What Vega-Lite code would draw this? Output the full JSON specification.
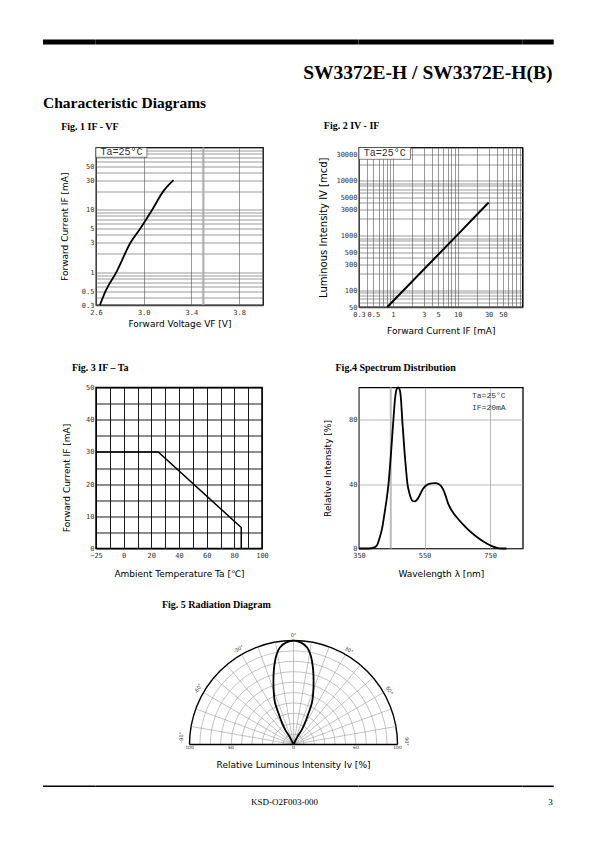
{
  "$schema": "https://vega.github.io/schema/vega-lite/v6.json",
  "background": "white",
  "padding": {"left": 43, "top": 39.5, "right": 0, "bottom": 0},
  "bounds": "flush",
  "spacing": 0,
  "columns": 5,
  "align": "each",
  "config": {
    "view": {"stroke": null},
    "axis": {"labelFont": "DejaVu Sans Mono", "labelFontSize": 7, "labelColor": "#333", "titleFont": "DejaVu Sans", "titleFontSize": 9, "titleFontWeight": "normal", "titleColor": "#000", "ticks": false, "domain": false, "labelOverlap": false, "labelFlush": false, "labelPadding": 3, "gridColor": "#555", "gridWidth": 0.6, "gridOpacity": 1},
    "title": {"font": "Liberation Serif", "fontWeight": "bold", "fontSize": 10, "color": "#000", "anchor": "start", "frame": "group", "baseline": "alphabetic"}
  },
  "concat": [
    {"width": 52.8, "height": 5, "view": {"fill": "black", "stroke": null}, "data": {"values": [{}]}, "mark": {"type": "point", "size": 0, "strokeWidth": 0, "opacity": 0}, "encoding": {},
     "title": {"text": "Characteristic Diagrams", "orient": "bottom", "anchor": "start", "fontSize": 15.5, "offset": 51.5}},
    {"width": 167, "height": 5, "view": {"fill": "black", "stroke": null}, "data": {"values": [{}]}, "mark": {"type": "point", "size": 0, "strokeWidth": 0, "opacity": 0}, "encoding": {}},
    {"width": 95.7, "height": 5, "view": {"fill": "black", "stroke": null}, "data": {"values": [{}]}, "mark": {"type": "point", "size": 0, "strokeWidth": 0, "opacity": 0}, "encoding": {}},
    {"width": 163.8, "height": 5, "view": {"fill": "black", "stroke": null}, "data": {"values": [{}]}, "mark": {"type": "point", "size": 0, "strokeWidth": 0, "opacity": 0}, "encoding": {}},
    {"width": 30.7, "height": 5, "view": {"fill": "black", "stroke": null}, "data": {"values": [{}]}, "mark": {"type": "point", "size": 0, "strokeWidth": 0, "opacity": 0}, "encoding": {},
     "title": {"text": "SW3372E-H / SW3372E-H(B)", "orient": "bottom", "anchor": "end", "fontSize": 19.5, "offset": 19.5, "dx": -1.3}},

    {"width": 1, "height": 103, "data": {"values": [{}]}, "mark": {"type": "point", "size": 0, "strokeWidth": 0, "opacity": 0}, "encoding": {}},
    {"width": 1, "height": 1, "data": {"values": [{}]}, "mark": {"type": "point", "size": 0, "strokeWidth": 0, "opacity": 0}, "encoding": {}},
    {"width": 1, "height": 1, "data": {"values": [{}]}, "mark": {"type": "point", "size": 0, "strokeWidth": 0, "opacity": 0}, "encoding": {}},
    {"width": 1, "height": 1, "data": {"values": [{}]}, "mark": {"type": "point", "size": 0, "strokeWidth": 0, "opacity": 0}, "encoding": {}},
    {"width": 1, "height": 1, "data": {"values": [{}]}, "mark": {"type": "point", "size": 0, "strokeWidth": 0, "opacity": 0}, "encoding": {}},

    {"width": 1, "height": 239.5, "data": {"values": [{}]}, "mark": {"type": "point", "size": 0, "strokeWidth": 0, "opacity": 0}, "encoding": {}},
    {"width": 167, "height": 157.5, "view": {"stroke": "#000", "strokeWidth": 1.3},
     "title": {"text": "Fig. 1 IF - VF", "offset": 11.8, "dx": -34.8},
     "layer": [
       {"data": {"values": [{}]}, "mark": {"type": "rule", "color": "#aaa", "strokeWidth": 2}, "encoding": {"x": {"datum": 3.5, "type": "quantitative"}}},
       {"data": {"values": [
          {"vf": 2.633, "ifa": 0.3}, {"vf": 2.68, "ifa": 0.5}, {"vf": 2.77, "ifa": 1}, {"vf": 2.89, "ifa": 3},
          {"vf": 2.97, "ifa": 5}, {"vf": 3.07, "ifa": 10}, {"vf": 3.165, "ifa": 20}, {"vf": 3.25, "ifa": 30}]},
        "mark": {"type": "line", "color": "black", "strokeWidth": 1.8, "interpolate": "monotone"},
        "encoding": {
          "x": {"field": "vf", "type": "quantitative", "scale": {"domain": [2.6, 4.0], "nice": false, "zero": false},
                "axis": {"values": [2.6,2.7,2.8,2.9,3.0,3.1,3.2,3.3,3.4,3.5,3.6,3.7,3.8,3.9,4.0], "labelExpr": "round(datum.value*10) % 2 == 0 ? format(datum.value, '.1f') : ''", "labelOverlap": false, "title": "Forward   Voltage VF [V]", "titleY": 18, "titleBaseline": "middle", "labelPadding": 3, "grid": true}},
          "y": {"field": "ifa", "type": "quantitative", "scale": {"type": "log", "domain": [0.3, 100], "nice": false},
                "axis": {"values": [0.3,0.4,0.5,0.6,0.7,0.8,0.9,1,2,3,4,5,6,7,8,9,10,20,30,40,50,60,70,80,90,100], "labelExpr": "indexof([0.3,0.5,1,3,5,10,30,50], datum.value) >= 0 ? format(datum.value, '~g') : ''", "labelOverlap": false, "title": "Forward   Current IF [mA]", "titleX": -31.8, "titleBaseline": "middle", "labelPadding": 2, "grid": true}}
        }},
       {"data": {"values": [{}]}, "mark": {"type": "point", "shape": "M-1,-0.188L1,-0.188L1,0.188L-1,0.188Z", "size": 2601, "filled": true, "fill": "white", "stroke": "#333", "strokeWidth": 0.6, "opacity": 1},
        "encoding": {"x": {"datum": 2.813, "type": "quantitative"}, "y": {"datum": 83.2, "type": "quantitative"}}},
       {"data": {"values": [{}]}, "mark": {"type": "text", "font": "Liberation Mono", "fontSize": 10, "color": "#333", "align": "center", "baseline": "middle"},
        "encoding": {"x": {"datum": 2.813, "type": "quantitative"}, "y": {"datum": 83.2, "type": "quantitative"}, "text": {"value": "Ta=25°C"}}}
     ]},
    {"width": 1, "height": 1, "data": {"values": [{}]}, "mark": {"type": "point", "size": 0, "strokeWidth": 0, "opacity": 0}, "encoding": {}},
    {"width": 163.5, "height": 159.5, "view": {"stroke": "#000", "strokeWidth": 1.3},
     "title": {"text": "Fig. 2 IV - IF", "offset": 12.5, "dx": -35.2},
     "layer": [
       {"data": {"values": [{"ifw": 0.82, "iv": 50}, {"ifw": 10, "iv": 1040}, {"ifw": 30, "iv": 4000}]},
        "mark": {"type": "line", "color": "black", "strokeWidth": 2},
        "encoding": {
          "x": {"field": "ifw", "type": "quantitative", "scale": {"type": "log", "domain": [0.3, 100], "nice": false},
                "axis": {"values": [0.3,0.4,0.5,0.6,0.7,0.8,0.9,1,2,3,4,5,6,7,8,9,10,20,30,40,50,60,70,80,90,100], "labelExpr": "indexof([0.3,0.5,1,3,5,10,30,50], datum.value) >= 0 ? format(datum.value, '~g') : ''", "labelOverlap": false, "title": "Forward   Current IF [mA]", "titleY": 23, "titleBaseline": "middle", "grid": true}},
          "y": {"field": "iv", "type": "quantitative", "scale": {"type": "log", "domain": [50, 40000], "nice": false},
                "axis": {"values": [50,60,70,80,90,100,200,300,400,500,600,700,800,900,1000,2000,3000,4000,5000,6000,7000,8000,9000,10000,20000,30000,40000], "labelExpr": "indexof([50,100,300,500,1000,3000,5000,10000,30000], datum.value) >= 0 ? format(datum.value, 'd') : ''", "labelOverlap": false, "title": "Luminous Intensity IV [mcd]", "titleFontSize": 10, "titleX": -35.2, "titleBaseline": "middle", "labelPadding": 2, "grid": true}}
        }},
       {"data": {"values": [{}]}, "mark": {"type": "point", "shape": "M-1,-0.229L1,-0.229L1,0.229L-1,0.229Z", "size": 2652, "filled": true, "fill": "white", "stroke": "#333", "strokeWidth": 0.6, "opacity": 1},
        "encoding": {"x": {"datum": 0.749, "type": "quantitative"}, "y": {"datum": 31250, "type": "quantitative"}}},
       {"data": {"values": [{}]}, "mark": {"type": "text", "font": "Liberation Mono", "fontSize": 10, "color": "#333", "align": "center", "baseline": "middle"},
        "encoding": {"x": {"datum": 0.749, "type": "quantitative"}, "y": {"datum": 31250, "type": "quantitative"}, "text": {"value": "Ta=25°C"}}}
     ]},
    {"width": 1, "height": 1, "data": {"values": [{}]}, "mark": {"type": "point", "size": 0, "strokeWidth": 0, "opacity": 0}, "encoding": {}},

    {"width": 1, "height": 251, "data": {"values": [{}]}, "mark": {"type": "point", "size": 0, "strokeWidth": 0, "opacity": 0}, "encoding": {}},
    {"width": 166, "height": 161, "view": {"stroke": "#000", "strokeWidth": 1.5},
     "title": {"text": "Fig. 3 IF – Ta", "offset": 11, "dx": -24.1},
     "data": {"values": [{"ta": -20, "cur": 30, "o": 0}, {"ta": 25, "cur": 30, "o": 1}, {"ta": 85, "cur": 6.5, "o": 2}, {"ta": 85, "cur": 0, "o": 3}]},
     "mark": {"type": "line", "color": "black", "strokeWidth": 1.5},
     "encoding": {
       "order": {"field": "o", "type": "quantitative"},
       "x": {"field": "ta", "type": "quantitative", "scale": {"domain": [-20, 100], "nice": false, "zero": false},
             "axis": {"values": [-20,-10,0,10,20,30,40,50,60,70,80,90,100], "labelExpr": "datum.value == -20 ? '−25' : (datum.value % 20 == 0 ? datum.label : '')", "labelOverlap": false, "title": "Ambient Temperature Ta [℃]", "titleY": 24.5, "titleBaseline": "middle", "grid": true, "gridColor": "#000", "gridWidth": 0.9}},
       "y": {"field": "cur", "type": "quantitative", "scale": {"domain": [0, 50], "nice": false},
             "axis": {"values": [0,5,10,15,20,25,30,35,40,45,50], "labelExpr": "datum.value % 10 == 0 ? datum.label : ''", "labelOverlap": false, "title": "Forward       Current IF [mA]", "titleX": -29.1, "titleY": 90, "titleBaseline": "middle", "labelPadding": 2, "grid": true, "gridColor": "#000", "gridWidth": 0.9}}
     }},
    {"width": 1, "height": 1, "data": {"values": [{}]}, "mark": {"type": "point", "size": 0, "strokeWidth": 0, "opacity": 0}, "encoding": {}},
    {"width": 163.8, "height": 161, "view": {"stroke": "#000", "strokeWidth": 1.3},
     "title": {"text": "Fig.4 Spectrum Distribution", "offset": 11, "dx": -23.5},
     "layer": [
       {"data": {"values": [{}]}, "mark": {"type": "rule", "color": "#bbb", "strokeWidth": 2}, "encoding": {"x": {"datum": 447, "type": "quantitative"}}},
       {"data": {"values": [
          {"wl": 350, "ri": 0}, {"wl": 380, "ri": 0}, {"wl": 395, "ri": 0.5}, {"wl": 405, "ri": 2}, {"wl": 412, "ri": 6},
          {"wl": 420, "ri": 12}, {"wl": 427, "ri": 20.6}, {"wl": 434, "ri": 30}, {"wl": 440, "ri": 40}, {"wl": 448, "ri": 60},
          {"wl": 455, "ri": 80}, {"wl": 460, "ri": 93}, {"wl": 465, "ri": 99}, {"wl": 470, "ri": 100}, {"wl": 475, "ri": 98},
          {"wl": 478, "ri": 93}, {"wl": 482, "ri": 80}, {"wl": 489, "ri": 60}, {"wl": 494, "ri": 48}, {"wl": 498, "ri": 40},
          {"wl": 503, "ri": 35}, {"wl": 508, "ri": 31.5}, {"wl": 514, "ri": 29.5}, {"wl": 521, "ri": 29.3}, {"wl": 528, "ri": 30.5},
          {"wl": 535, "ri": 33}, {"wl": 545, "ri": 37}, {"wl": 557, "ri": 39.5}, {"wl": 572, "ri": 40.5}, {"wl": 585, "ri": 40.6},
          {"wl": 597, "ri": 39.5}, {"wl": 606, "ri": 37}, {"wl": 614, "ri": 33}, {"wl": 621, "ri": 28.5}, {"wl": 629, "ri": 25},
          {"wl": 640, "ri": 21.5}, {"wl": 652, "ri": 18.5}, {"wl": 666, "ri": 15.3}, {"wl": 680, "ri": 12.4}, {"wl": 695, "ri": 9.6},
          {"wl": 710, "ri": 7.2}, {"wl": 725, "ri": 5}, {"wl": 741, "ri": 3}, {"wl": 756, "ri": 1.5}, {"wl": 771, "ri": 0.4},
          {"wl": 785, "ri": 0}, {"wl": 800, "ri": 0}]},
        "mark": {"type": "line", "color": "black", "strokeWidth": 1.8, "interpolate": "monotone"},
        "encoding": {
          "x": {"field": "wl", "type": "quantitative", "scale": {"domain": [350, 850], "nice": false, "zero": false},
                "axis": {"values": [350,450,550,650,750,850], "labelOverlap": false, "title": "Wavelength λ [nm]", "titleY": 25, "titleBaseline": "middle", "grid": true, "gridColor": "#999", "gridWidth": 0.7}},
          "y": {"field": "ri", "type": "quantitative", "scale": {"domain": [0, 100], "nice": false},
                "axis": {"values": [0,20,40,60,80,100], "labelOverlap": false, "title": "Relative    Intensity [%]", "titleX": -31.8, "titleBaseline": "middle", "labelPadding": 2, "grid": true, "gridColor": "#999", "gridWidth": 0.7}}
        }},
       {"data": {"values": [{}]}, "mark": {"type": "text", "font": "Liberation Mono", "fontSize": 8, "color": "#333", "align": "left", "baseline": "middle"},
        "encoding": {"x": {"datum": 695, "type": "quantitative"}, "y": {"datum": 95, "type": "quantitative"}, "text": {"value": "Ta=25°C"}}},
       {"data": {"values": [{}]}, "mark": {"type": "text", "font": "Liberation Mono", "fontSize": 8, "color": "#333", "align": "left", "baseline": "middle"},
        "encoding": {"x": {"datum": 695, "type": "quantitative"}, "y": {"datum": 87.5, "type": "quantitative"}, "text": {"value": "IF=20mA"}}}
     ]},
    {"width": 1, "height": 1, "data": {"values": [{}]}, "mark": {"type": "point", "size": 0, "strokeWidth": 0, "opacity": 0}, "encoding": {}},

    {"width": 1, "height": 146.5, "data": {"values": [{}]}, "mark": {"type": "point", "size": 0, "strokeWidth": 0, "opacity": 0}, "encoding": {}},
    {"width": 167, "height": 106,
     "title": {"text": "Fig. 5 Radiation Diagram", "offset": 23, "dx": 65.9},
     "layer": [
       {"data": {"values": [{"r": 10}, {"r": 20}, {"r": 30}, {"r": 40}, {"r": 50}, {"r": 60}, {"r": 70}, {"r": 80}, {"r": 90}]},
        "mark": {"type": "point", "shape": "circle", "filled": false, "stroke": "#888", "strokeWidth": 0.5, "opacity": 1},
        "encoding": {"x": {"datum": 0, "type": "quantitative", "axis": null}, "y": {"datum": 0, "type": "quantitative", "axis": null},
                     "size": {"field": "r", "type": "quantitative", "legend": null, "scale": {"type": "pow", "exponent": 2, "domain": [0, 100], "range": [0, 43264], "zero": true}}}},
       {"data": {"values": [{"r": 100}]},
        "mark": {"type": "point", "shape": "circle", "filled": false, "stroke": "#000", "strokeWidth": 1.4, "opacity": 1},
        "encoding": {"x": {"datum": 0, "type": "quantitative", "axis": null}, "y": {"datum": 0, "type": "quantitative", "axis": null},
                     "size": {"field": "r", "type": "quantitative", "legend": null, "scale": {"type": "pow", "exponent": 2, "domain": [0, 100], "range": [0, 43264], "zero": true}}}},
       {"data": {"values": [{}]}, "mark": {"type": "point", "shape": "M-1,-0.5L1,-0.5L1,0.5L-1,0.5Z", "size": 48400, "filled": true, "fill": "white", "strokeWidth": 0, "opacity": 1},
        "encoding": {"x": {"datum": 0, "type": "quantitative", "axis": null}, "y": {"datum": -53, "type": "quantitative", "axis": null}}},
       {"data": {"values": [
          {"k": "a0", "sx": 0, "sy": 0}, {"k": "a0", "sx": 0, "sy": 100},
          {"k": "p10", "sx": 0, "sy": 0}, {"k": "p10", "sx": 17.36, "sy": 98.48},
          {"k": "p20", "sx": 0, "sy": 0}, {"k": "p20", "sx": 34.2, "sy": 93.97},
          {"k": "p30", "sx": 0, "sy": 0}, {"k": "p30", "sx": 50, "sy": 86.6},
          {"k": "p40", "sx": 0, "sy": 0}, {"k": "p40", "sx": 64.28, "sy": 76.6},
          {"k": "p50", "sx": 0, "sy": 0}, {"k": "p50", "sx": 76.6, "sy": 64.28},
          {"k": "p60", "sx": 0, "sy": 0}, {"k": "p60", "sx": 86.6, "sy": 50},
          {"k": "p70", "sx": 0, "sy": 0}, {"k": "p70", "sx": 93.97, "sy": 34.2},
          {"k": "p80", "sx": 0, "sy": 0}, {"k": "p80", "sx": 98.48, "sy": 17.36},
          {"k": "m10", "sx": 0, "sy": 0}, {"k": "m10", "sx": -17.36, "sy": 98.48},
          {"k": "m20", "sx": 0, "sy": 0}, {"k": "m20", "sx": -34.2, "sy": 93.97},
          {"k": "m30", "sx": 0, "sy": 0}, {"k": "m30", "sx": -50, "sy": 86.6},
          {"k": "m40", "sx": 0, "sy": 0}, {"k": "m40", "sx": -64.28, "sy": 76.6},
          {"k": "m50", "sx": 0, "sy": 0}, {"k": "m50", "sx": -76.6, "sy": 64.28},
          {"k": "m60", "sx": 0, "sy": 0}, {"k": "m60", "sx": -86.6, "sy": 50},
          {"k": "m70", "sx": 0, "sy": 0}, {"k": "m70", "sx": -93.97, "sy": 34.2},
          {"k": "m80", "sx": 0, "sy": 0}, {"k": "m80", "sx": -98.48, "sy": 17.36}]},
        "mark": {"type": "line", "color": "#888", "strokeWidth": 0.5},
        "encoding": {"x": {"field": "sx", "type": "quantitative", "axis": null}, "y": {"field": "sy", "type": "quantitative", "axis": null},
                     "detail": {"field": "k", "type": "nominal"}}},
       {"data": {"values": [{"lx": 0, "ly": 0, "o": 0}, {"lx": 3.7, "ly": 7.3, "o": 1}, {"lx": 7.8, "ly": 13.9, "o": 2}, {"lx": 10.9, "ly": 20.5, "o": 3},
          {"lx": 14.6, "ly": 30.5, "o": 4}, {"lx": 17.8, "ly": 40.4, "o": 5}, {"lx": 19.0, "ly": 50.3, "o": 6}, {"lx": 19.3, "ly": 60.3, "o": 7},
          {"lx": 19.0, "ly": 70.2, "o": 8}, {"lx": 17.8, "ly": 80.1, "o": 9}, {"lx": 16.2, "ly": 86.8, "o": 10}, {"lx": 13.1, "ly": 93.4, "o": 11},
          {"lx": 6.9, "ly": 98.3, "o": 12}, {"lx": 0, "ly": 100, "o": 13}, {"lx": -6.9, "ly": 98.3, "o": 14}, {"lx": -13.1, "ly": 93.4, "o": 15},
          {"lx": -16.2, "ly": 86.8, "o": 16}, {"lx": -17.8, "ly": 80.1, "o": 17}, {"lx": -19.0, "ly": 70.2, "o": 18}, {"lx": -19.3, "ly": 60.3, "o": 19},
          {"lx": -19.0, "ly": 50.3, "o": 20}, {"lx": -17.8, "ly": 40.4, "o": 21}, {"lx": -14.6, "ly": 30.5, "o": 22}, {"lx": -10.9, "ly": 20.5, "o": 23},
          {"lx": -7.8, "ly": 13.9, "o": 24}, {"lx": -3.7, "ly": 7.3, "o": 25}, {"lx": 0, "ly": 0, "o": 26}]},
        "mark": {"type": "line", "color": "black", "strokeWidth": 1.8, "interpolate": "catmull-rom"},
        "encoding": {
          "order": {"field": "o", "type": "quantitative"},
          "x": {"field": "lx", "type": "quantitative", "scale": {"domain": [-189.9, -29.33], "nice": false, "zero": false}, "axis": null},
          "y": {"field": "ly", "type": "quantitative", "scale": {"domain": [0, 102], "nice": false}, "axis": null}
        }},
       {"data": {"values": [{"bx": -100}, {"bx": 100}]}, "mark": {"type": "line", "color": "#000", "strokeWidth": 1.4},
        "encoding": {"x": {"field": "bx", "type": "quantitative", "axis": null}, "y": {"datum": 0, "type": "quantitative", "axis": null}}},
       {"data": {"values": [{"t": "100", "v": -100}, {"t": "60", "v": -60}, {"t": "0", "v": 0}, {"t": "60", "v": 60}, {"t": "100", "v": 100}]},
        "mark": {"type": "text", "font": "DejaVu Sans", "fontSize": 4.5, "color": "#333", "baseline": "middle"},
        "encoding": {"x": {"field": "v", "type": "quantitative", "axis": null}, "y": {"datum": -3.8, "type": "quantitative", "axis": null}, "text": {"field": "t"}}},
       {"data": {"values": [{}]}, "mark": {"type": "text", "font": "DejaVu Sans", "fontSize": 9, "color": "#000", "baseline": "middle"},
        "encoding": {"x": {"datum": 0, "type": "quantitative", "axis": null}, "y": {"datum": -20.2, "type": "quantitative", "axis": null}, "text": {"value": "Relative Luminous Intensity Iv [%]"}}},
       {"data": {"values": [{}]}, "mark": {"type": "text", "font": "DejaVu Sans", "fontSize": 5, "color": "#333", "baseline": "middle"},
        "encoding": {"x": {"datum": 0, "type": "quantitative", "axis": null}, "y": {"datum": 105.5, "type": "quantitative", "axis": null}, "text": {"value": "0°"}}},
       {"data": {"values": [{}]}, "mark": {"type": "text", "font": "DejaVu Sans", "fontSize": 5, "color": "#333", "baseline": "middle", "angle": -30},
        "encoding": {"x": {"datum": -53, "type": "quantitative", "axis": null}, "y": {"datum": 92, "type": "quantitative", "axis": null}, "text": {"value": "-30°"}}},
       {"data": {"values": [{}]}, "mark": {"type": "text", "font": "DejaVu Sans", "fontSize": 5, "color": "#333", "baseline": "middle", "angle": 30},
        "encoding": {"x": {"datum": 53.5, "type": "quantitative", "axis": null}, "y": {"datum": 91, "type": "quantitative", "axis": null}, "text": {"value": "30°"}}},
       {"data": {"values": [{}]}, "mark": {"type": "text", "font": "DejaVu Sans", "fontSize": 5, "color": "#333", "baseline": "middle", "angle": -60},
        "encoding": {"x": {"datum": -92, "type": "quantitative", "axis": null}, "y": {"datum": 54, "type": "quantitative", "axis": null}, "text": {"value": "-60°"}}},
       {"data": {"values": [{}]}, "mark": {"type": "text", "font": "DejaVu Sans", "fontSize": 5, "color": "#333", "baseline": "middle", "angle": 60},
        "encoding": {"x": {"datum": 92.5, "type": "quantitative", "axis": null}, "y": {"datum": 52, "type": "quantitative", "axis": null}, "text": {"value": "60°"}}},
       {"data": {"values": [{}]}, "mark": {"type": "text", "font": "DejaVu Sans", "fontSize": 5, "color": "#333", "baseline": "middle", "angle": -90},
        "encoding": {"x": {"datum": -108.5, "type": "quantitative", "axis": null}, "y": {"datum": 7, "type": "quantitative", "axis": null}, "text": {"value": "-90°"}}},
       {"data": {"values": [{}]}, "mark": {"type": "text", "font": "DejaVu Sans", "fontSize": 5, "color": "#333", "baseline": "middle", "angle": 90},
        "encoding": {"x": {"datum": 109, "type": "quantitative", "axis": null}, "y": {"datum": 3, "type": "quantitative", "axis": null}, "text": {"value": "90°"}}}
     ]},
    {"width": 1, "height": 1, "data": {"values": [{}]}, "mark": {"type": "point", "size": 0, "strokeWidth": 0, "opacity": 0}, "encoding": {}},
    {"width": 1, "height": 1, "data": {"values": [{}]}, "mark": {"type": "point", "size": 0, "strokeWidth": 0, "opacity": 0}, "encoding": {}},
    {"width": 1, "height": 1, "data": {"values": [{}]}, "mark": {"type": "point", "size": 0, "strokeWidth": 0, "opacity": 0}, "encoding": {}},

    {"width": 52.8, "height": 1.6, "view": {"fill": "black", "stroke": null}, "data": {"values": [{}]}, "mark": {"type": "point", "size": 0, "strokeWidth": 0, "opacity": 0}, "encoding": {}},
    {"width": 167, "height": 1.6, "view": {"fill": "black", "stroke": null}, "data": {"values": [{}]}, "mark": {"type": "point", "size": 0, "strokeWidth": 0, "opacity": 0}, "encoding": {},
     "title": {"text": "KSD-O2F003-000", "orient": "bottom", "anchor": "start", "dx": 154.9, "offset": 11.3, "fontWeight": "normal", "fontSize": 9}},
    {"width": 95.7, "height": 1.6, "view": {"fill": "black", "stroke": null}, "data": {"values": [{}]}, "mark": {"type": "point", "size": 0, "strokeWidth": 0, "opacity": 0}, "encoding": {}},
    {"width": 163.8, "height": 1.6, "view": {"fill": "black", "stroke": null}, "data": {"values": [{}]}, "mark": {"type": "point", "size": 0, "strokeWidth": 0, "opacity": 0}, "encoding": {}},
    {"width": 30.7, "height": 1.6, "view": {"fill": "black", "stroke": null}, "data": {"values": [{}]}, "mark": {"type": "point", "size": 0, "strokeWidth": 0, "opacity": 0}, "encoding": {},
     "title": {"text": "3", "orient": "bottom", "anchor": "end", "dx": -1, "offset": 11.3, "fontWeight": "normal", "fontSize": 9}}
  ]
}
